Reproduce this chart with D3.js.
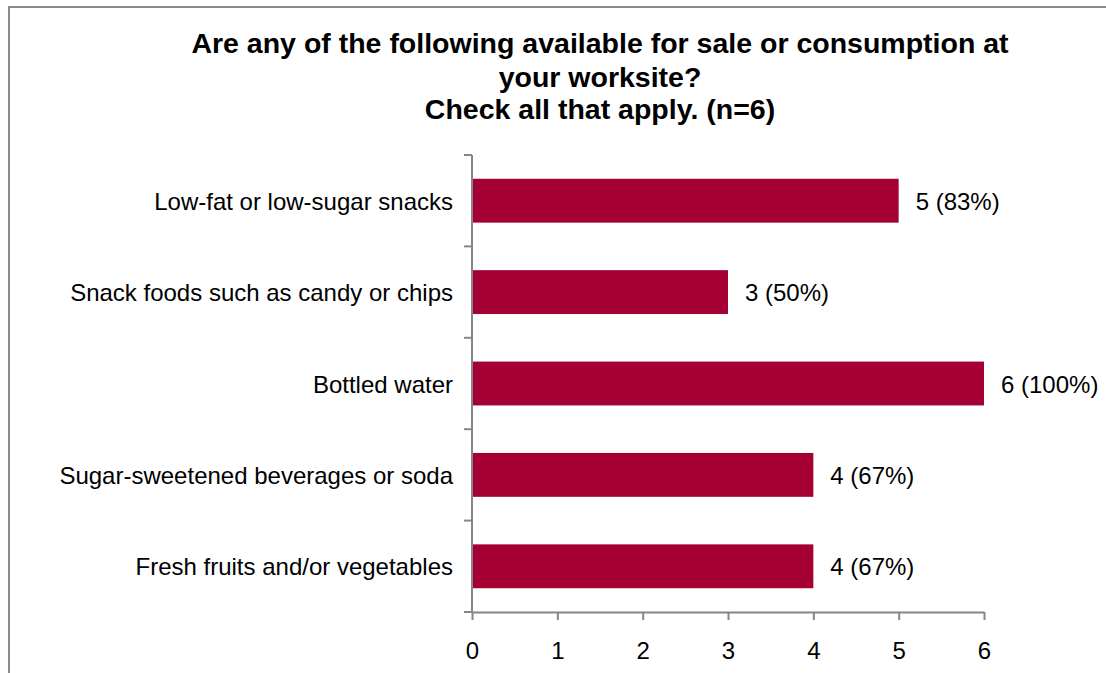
<!DOCTYPE html>
<html>
<head>
<meta charset="utf-8">
<script src="https://cdn.jsdelivr.net/npm/d3@7"></script>
<style>
  html, body { margin: 0; padding: 0; background: #fff; }
  svg { display: block; }
  text { font-family: "Liberation Sans", Arial, sans-serif; fill: #000; }
</style>
</head>
<body>
<svg id="chart" width="1106" height="673"></svg>
<script>
const titleLines = ["Are any of the following available for sale or consumption at", "your worksite?", "Check all that apply. (n=6)"];
const categories = ["Low-fat or low-sugar snacks", "Snack foods such as candy or chips", "Bottled water", "Sugar-sweetened beverages or soda", "Fresh fruits and/or vegetables"];
const counts = [5, 3, 6, 4, 4];
const percents = [83, 50, 100, 67, 67];
const xTicks = [0, 1, 2, 3, 4, 5, 6];

const svg = d3.select("#chart");
const W = 1106, H = 673;
const axisColor = "#868686";
const barColor = "#A50034";

// chart border
svg.append("path")
  .attr("d", `M9,${H} L9,7 L${W},7`)
  .attr("fill", "none").attr("stroke", "#8c8c8c").attr("stroke-width", 2);

// title
const title = svg.append("text")
  .attr("text-anchor", "middle")
  .style("font-weight", "bold").style("font-size", "28.5px");
const titleY = [53, 87, 119];
titleLines.forEach((t, i) => {
  title.append("tspan").attr("x", 600).attr("y", titleY[i]).text(t);
});

const x = d3.scaleLinear().domain([0, 6]).range([472, 984]);
const y = d3.scaleBand().domain(categories).range([155, 612]).paddingInner(0.52).paddingOuter(0.26);

// bars
svg.append("g").selectAll("rect").data(categories).join("rect")
  .attr("x", x(0))
  .attr("y", d => y(d))
  .attr("width", (d, i) => x(counts[i]) - x(0))
  .attr("height", y.bandwidth())
  .attr("fill", barColor);

// value labels
svg.append("g").selectAll("text").data(categories).join("text")
  .attr("x", (d, i) => x(counts[i]) + 17)
  .attr("y", d => y(d) + y.bandwidth() / 2 + 9)
  .style("font-size", "24px")
  .text((d, i) => `${counts[i]} (${percents[i]}%)`);

// y axis
const step = (612 - 155) / categories.length;
const yAxisG = svg.append("g");
yAxisG.append("line").attr("x1", 472).attr("x2", 472).attr("y1", 155).attr("y2", 612)
  .attr("stroke", axisColor).attr("stroke-width", 2);
yAxisG.selectAll("line.tick").data(d3.range(categories.length + 1)).join("line")
  .attr("class", "tick")
  .attr("x1", 464).attr("x2", 472)
  .attr("y1", i => 155 + i * step).attr("y2", i => 155 + i * step)
  .attr("stroke", axisColor).attr("stroke-width", 2);
yAxisG.selectAll("text").data(categories).join("text")
  .attr("x", 453)
  .attr("y", d => y(d) + y.bandwidth() / 2 + 9)
  .attr("text-anchor", "end")
  .style("font-size", "24px")
  .text(d => d);

// x axis
const xAxis = d3.axisBottom(x).tickValues(xTicks).tickFormat(d3.format("d"))
  .tickSize(8).tickPadding(22).tickSizeOuter(0);
const xg = svg.append("g").attr("transform", "translate(0,612)").call(xAxis);
xg.select(".domain").attr("stroke", axisColor).attr("stroke-width", 2);
xg.selectAll(".tick line").attr("stroke", axisColor).attr("stroke-width", 2);
xg.selectAll(".tick text").style("font-size", "24px").style("font-family", "'Liberation Sans', Arial, sans-serif").attr("fill", "#000");
</script>
</body>
</html>
